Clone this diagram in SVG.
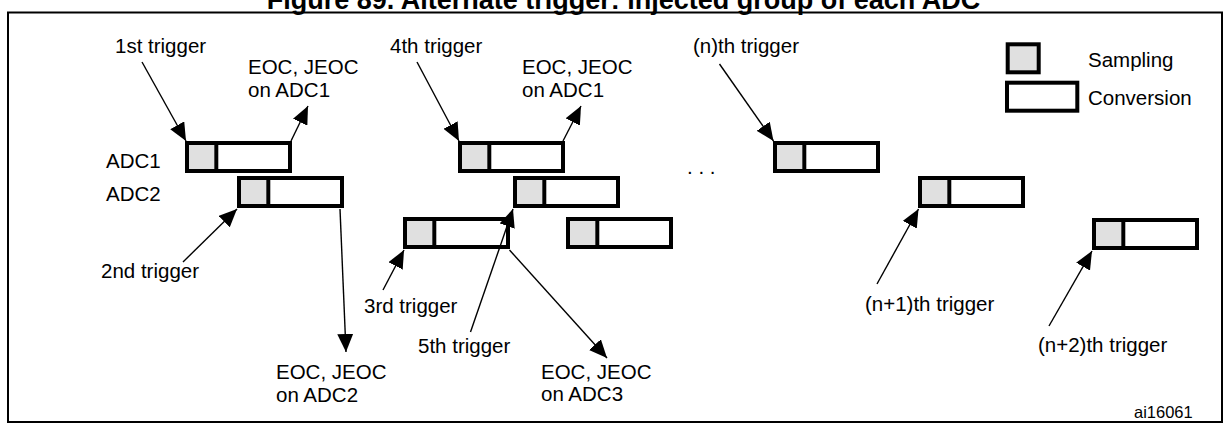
<svg xmlns="http://www.w3.org/2000/svg" width="1230" height="423" viewBox="0 0 1230 423">
<style>
.t{font-family:"Liberation Sans",Arial,sans-serif;font-size:20.5px;fill:#000}
.title{font-family:"Liberation Sans",Arial,sans-serif;font-size:27px;font-weight:bold;fill:#000}
.box{fill:#fff;stroke:#000;stroke-width:4}
.samp{fill:#e0e0e0;stroke:none}
.div{stroke:#000;stroke-width:4}
.arr{stroke:#000;stroke-width:1.4;fill:none;marker-end:url(#ah)}
</style>
<defs>
<marker id="ah" viewBox="0 0 18 16" refX="18" refY="8" markerWidth="18" markerHeight="16" orient="auto" markerUnits="userSpaceOnUse">
<path d="M0,0 L18,8 L0,16 Z" fill="#000"/>
</marker>
<g id="adcbox">
<rect class="box" x="2" y="2" width="103" height="28"/>
<rect class="samp" x="4" y="4" width="25.3" height="24"/>
<line class="div" x1="31.3" y1="2" x2="31.3" y2="30"/>
</g>
</defs>
<rect width="1230" height="423" fill="#fff"/>
<text class="title" x="623.5" y="8.5" text-anchor="middle">Figure 89. Alternate trigger: injected group of each ADC</text>
<rect x="8" y="12.5" width="1214" height="409.5" fill="none" stroke="#000" stroke-width="2"/>

<g id="labels">
<text class="t" x="106" y="168">ADC1</text>
<text class="t" x="106" y="201">ADC2</text>
<text class="t" x="687" y="174">. . .</text>
</g>

<g id="legend">
<rect x="1007.7" y="44.3" width="31" height="28" fill="#e0e0e0" stroke="#000" stroke-width="4"/>
<rect x="1007" y="82.7" width="70.3" height="28" fill="#fff" stroke="#000" stroke-width="4"/>
<text class="t" x="1088" y="67">Sampling</text>
<text class="t" x="1088" y="105">Conversion</text>
</g>

<g id="adc1-a"><use href="#adcbox" x="185" y="141"/></g>
<g id="adc2-a"><use href="#adcbox" x="237" y="176"/></g>
<g id="adc3-a"><use href="#adcbox" x="403" y="217"/></g>
<g id="adc1-b"><use href="#adcbox" x="458" y="141"/></g>
<g id="adc2-b"><use href="#adcbox" x="513" y="176"/></g>
<g id="adc3-b"><use href="#adcbox" x="566" y="217"/></g>
<g id="adc-n"><use href="#adcbox" x="773" y="141"/></g>
<g id="adc-n1"><use href="#adcbox" x="918" y="176"/></g>
<g id="adc-n2"><use href="#adcbox" x="1092" y="218"/></g>

<g id="trigger-labels">
<text class="t" x="115" y="53">1st trigger</text>
<text class="t" x="390" y="53">4th trigger</text>
<text class="t" x="693" y="53">(n)th trigger</text>
<text class="t" x="101" y="278">2nd trigger</text>
<text class="t" x="364" y="313">3rd trigger</text>
<text class="t" x="418" y="353">5th trigger</text>
<text class="t" x="865" y="311">(n+1)th trigger</text>
<text class="t" x="1038" y="352">(n+2)th trigger</text>
</g>

<g id="eoc-labels">
<text class="t" x="248" y="74">EOC, JEOC</text>
<text class="t" x="248" y="97">on ADC1</text>
<text class="t" x="522" y="74">EOC, JEOC</text>
<text class="t" x="522" y="97">on ADC1</text>
<text class="t" x="276" y="379">EOC, JEOC</text>
<text class="t" x="276" y="402">on ADC2</text>
<text class="t" x="541" y="379">EOC, JEOC</text>
<text class="t" x="541" y="401">on ADC3</text>
</g>

<text class="t" x="1134" y="418" style="font-size:16.5px">ai16061</text>

<g id="connectors">
<line class="arr" x1="142" y1="62" x2="186" y2="141"/>
<line class="arr" x1="291" y1="141" x2="308" y2="106"/>
<line class="arr" x1="417" y1="62" x2="459" y2="141"/>
<line class="arr" x1="563" y1="141" x2="581" y2="106"/>
<line class="arr" x1="719.5" y1="64" x2="773.5" y2="141"/>
<line class="arr" x1="183" y1="262" x2="237" y2="209"/>
<line class="arr" x1="340" y1="209" x2="346" y2="352"/>
<line class="arr" x1="383" y1="290" x2="404" y2="250"/>
<line class="arr" x1="470.5" y1="332" x2="513" y2="209"/>
<line class="arr" x1="509.5" y1="250" x2="607" y2="358"/>
<line class="arr" x1="877" y1="284" x2="918.5" y2="209"/>
<line class="arr" x1="1049" y1="326" x2="1092" y2="251"/>
</g>
</svg>
